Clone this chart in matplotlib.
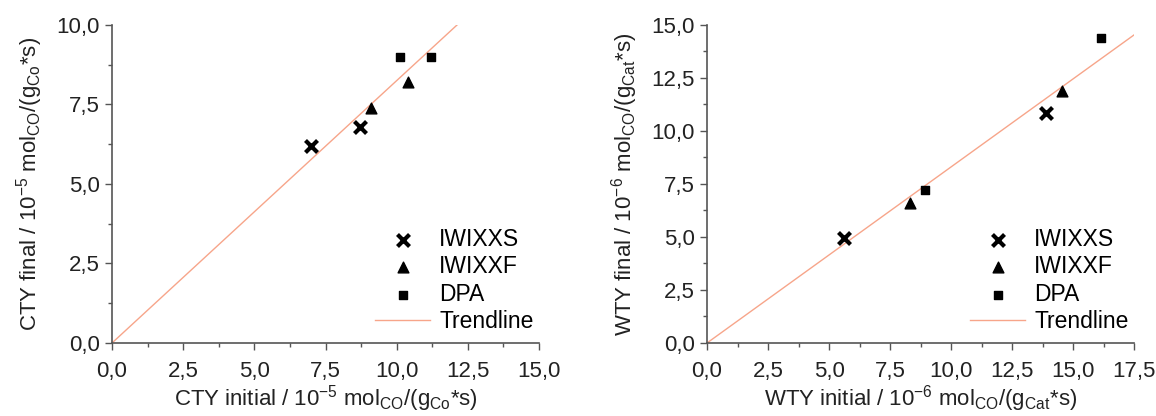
import matplotlib
matplotlib.use("Agg")
import matplotlib.pyplot as plt
from matplotlib.ticker import MultipleLocator, FuncFormatter

plt.rcParams["font.family"] = ["Liberation Sans", "DejaVu Sans"]
plt.rcParams["mathtext.fontset"] = "custom"
plt.rcParams["mathtext.rm"] = "Liberation Sans"

# ---- data: left panel (CTY) ----
cty_iwixxs_x = [7.0, 8.7]
cty_iwixxs_y = [6.2, 6.8]
cty_iwixxf_x = [9.1, 10.4]
cty_iwixxf_y = [7.4, 8.2]
cty_dpa_x = [10.1, 11.2]
cty_dpa_y = [9.0, 9.0]
cty_trend_x = [0.0, 12.12]
cty_trend_y = [0.0, 10.0]

# ---- data: right panel (WTY) ----
wty_iwixxs_x = [5.6, 13.9]
wty_iwixxs_y = [4.95, 10.85]
wty_iwixxf_x = [8.3, 14.55]
wty_iwixxf_y = [6.6, 11.9]
wty_dpa_x = [8.95, 16.15]
wty_dpa_y = [7.2, 14.4]
wty_trend_x = [0.0, 17.5]
wty_trend_y = [0.0, 14.53]

TREND = "#f7a58a"
comma = FuncFormatter(lambda v, p: f"{v:.1f}".replace(".", ","))


def panel(ax, xs, ys, xt, yt, xlim, ylim, xlabel, ylabel):
    ax.plot(xt, yt, color=TREND, lw=1.0, label="Trendline", zorder=1)
    ax.scatter(xs[0], ys[0], marker="x", s=75, linewidths=3, color="black", label="IWIXXS", zorder=3)
    ax.scatter(xs[1], ys[1], marker="^", s=60, color="black", label="IWIXXF", zorder=3)
    ax.scatter(xs[2], ys[2], marker="s", s=35, color="black", label="DPA", zorder=3)
    ax.set_xlim(*xlim); ax.set_ylim(*ylim)
    ax.xaxis.set_major_locator(MultipleLocator(2.5))
    ax.xaxis.set_minor_locator(MultipleLocator(1.25))
    ax.yaxis.set_major_locator(MultipleLocator(2.5))
    ax.yaxis.set_minor_locator(MultipleLocator(1.25))
    ax.xaxis.set_major_formatter(comma); ax.yaxis.set_major_formatter(comma)
    for s in ("top", "right"):
        ax.spines[s].set_visible(False)
    for s in ("left", "bottom"):
        ax.spines[s].set_color("#555555"); ax.spines[s].set_linewidth(1.2)
    ax.tick_params(which="major", direction="out", length=5, width=1, colors="#555555",
                   labelcolor="#222222", labelsize=16, pad=4)
    ax.tick_params(axis="x", which="major", pad=8)
    ax.tick_params(which="minor", direction="out", length=3, width=1, colors="#555555")
    ax.set_xlabel(xlabel, fontsize=16, color="#222222", labelpad=1)
    ax.set_ylabel(ylabel, fontsize=16, color="#222222", labelpad=8)
    h, l = ax.get_legend_handles_labels()
    order = [1, 2, 3, 0]
    ax.legend([h[i] for i in order], [l[i] for i in order], loc="lower right",
              bbox_to_anchor=(1.025, -0.02), frameon=False, fontsize=16.5,
              handlelength=2.4, handletextpad=0.4, labelspacing=0.2, borderpad=0.2)


fig = plt.figure(figsize=(11.56, 4.16), dpi=100)
ax1 = fig.add_axes([0.0969, 0.1755, 0.3694, 0.7645])
ax2 = fig.add_axes([0.6116, 0.1755, 0.3694, 0.7645])

panel(ax1, [cty_iwixxs_x, cty_iwixxf_x, cty_dpa_x], [cty_iwixxs_y, cty_iwixxf_y, cty_dpa_y],
      cty_trend_x, cty_trend_y, (0, 15), (0, 10),
      r"CTY initial / 10$^{\mathregular{-5}}$ mol$_{\mathregular{CO}}$/(g$_{\mathregular{Co}}$*s)",
      r"CTY final / 10$^{\mathregular{-5}}$ mol$_{\mathregular{CO}}$/(g$_{\mathregular{Co}}$*s)")
panel(ax2, [wty_iwixxs_x, wty_iwixxf_x, wty_dpa_x], [wty_iwixxs_y, wty_iwixxf_y, wty_dpa_y],
      wty_trend_x, wty_trend_y, (0, 17.5), (0, 15),
      r"WTY initial / 10$^{\mathregular{-6}}$ mol$_{\mathregular{CO}}$/(g$_{\mathregular{Cat}}$*s)",
      r"WTY final / 10$^{\mathregular{-6}}$ mol$_{\mathregular{CO}}$/(g$_{\mathregular{Cat}}$*s)")

fig.savefig("out.png", dpi=100)
